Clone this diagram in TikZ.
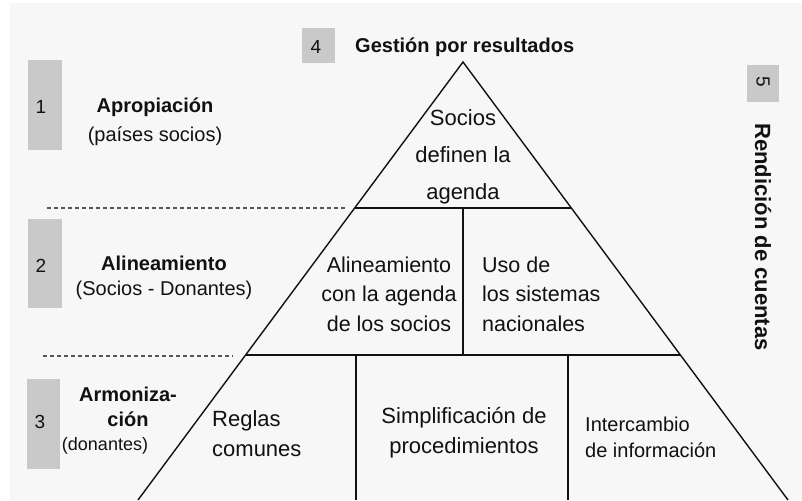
\documentclass[tikz,border=0pt]{standalone}
\usepackage{fontspec}
\setmainfont{Liberation Sans}
\definecolor{bgc}{HTML}{F7F7F7}
\definecolor{boxc}{HTML}{C9C9C9}
\definecolor{ink}{HTML}{111111}
\definecolor{dashc}{HTML}{555555}
\begin{document}
\begin{tikzpicture}[x=1pt,y=-1pt,
  numtxt/.style={font=\fontsize{19}{21}\selectfont,text=ink},
  pyr/.style={draw=ink,line width=1.4pt},
  sep/.style={draw=dashc,line width=1.1pt,dash pattern=on 4pt off 3pt},
  lbl/.style={font=\bfseries\fontsize{20}{22}\selectfont,text=ink,inner sep=0pt},
  sub/.style={font=\fontsize{20}{22}\selectfont,text=ink,inner sep=0pt},
  ptxt/.style={text=ink,inner sep=0pt}]
\useasboundingbox (0,0) rectangle (802,500);
\fill[white] (0,0) rectangle (802,500);
\fill[bgc] (10,3) rectangle (802,500);
% number boxes
\fill[boxc] (28,60) rectangle (62,150);
\fill[boxc] (28,219) rectangle (62,308);
\fill[boxc] (27,379) rectangle (60,469);
\fill[boxc] (302,28) rectangle (335,63);
\fill[boxc] (747,65) rectangle (779,102);
\node[numtxt] (n1) at (41,107) {1};
\node[numtxt] (n2) at (41,266) {2};
\node[numtxt] (n3) at (40,422) {3};
\node[numtxt] (n4) at (316,47) {4};
\node[numtxt,rotate=-90] (n5) at (763,82) {5};
% dashed separators
\coordinate (d1a) at (47,208);
\coordinate (d1b) at (345,208);
\coordinate (d2a) at (43,356);
\coordinate (d2b) at (233,356);
\draw[sep] (d1a) -- (d1b);
\draw[sep] (d2a) -- (d2b);
% pyramid
\coordinate (apex) at (463,62);
\coordinate (bl) at (138,500);
\coordinate (br) at (788,500);
\coordinate (l1) at (355,208);
\coordinate (r1) at (571,208);
\coordinate (l2) at (246,355);
\coordinate (r2) at (680,355);
\coordinate (v1t) at (463,208);
\coordinate (v1b) at (463,355);
\coordinate (v2t) at (356,355);
\coordinate (v2b) at (356,500);
\coordinate (v3t) at (568,355);
\coordinate (v3b) at (568,500);
\draw[pyr,line join=miter] (bl) -- (apex) -- (br);
\draw[pyr] (l1) -- (r1);
\draw[pyr] (l2) -- (r2);
\draw[pyr] (v1t) -- (v1b);
\draw[pyr] (v2t) -- (v2b);
\draw[pyr] (v3t) -- (v3b);
% pyramid texts
\node[ptxt,align=center,font=\fontsize{22}{37}\selectfont] (t1) at (463,157) {Socios\\definen la\\agenda};
\node[ptxt,align=center,font=\fontsize{21.5}{29.5}\selectfont] (t2) at (389,294) {Alineamiento\\con la agenda\\de los socios};
\node[ptxt,align=left,anchor=west,font=\fontsize{21.5}{29.5}\selectfont] (t3) at (482,294) {Uso de\\los sistemas\\nacionales};
\node[ptxt,align=left,anchor=west,font=\fontsize{22}{30}\selectfont] (t4) at (212,434) {Reglas\\comunes};
\node[ptxt,align=center,font=\fontsize{22}{30}\selectfont] (t5) at (464,433) {Simplificación de\\procedimientos};
\node[ptxt,align=left,anchor=west,font=\fontsize{20}{26}\selectfont] (t6) at (585,437) {Intercambio\\de información};
% side labels
\node[lbl,anchor=west,font=\bfseries\fontsize{20}{22}\selectfont] (g4) at (355,47) {Gestión por resultados};
\node[lbl] (a1) at (155,107) {Apropiación};
\node[sub] (a1s) at (155,136) {(países socios)};
\node[lbl] (a2) at (164,263) {Alineamiento};
\node[sub] (a2s) at (164,290) {(Socios - Donantes)};
\node[lbl] (a3) at (128,394) {Armoniza-};
\node[lbl] (a3b) at (128,419) {ción};
\node[sub,font=\fontsize{18}{20}\selectfont] (a3s) at (105,446) {(donantes)};
\node[lbl,rotate=-90,font=\bfseries\fontsize{22}{24}\selectfont] (r5) at (763,237) {Rendición de cuentas};
\end{tikzpicture}
\end{document}
